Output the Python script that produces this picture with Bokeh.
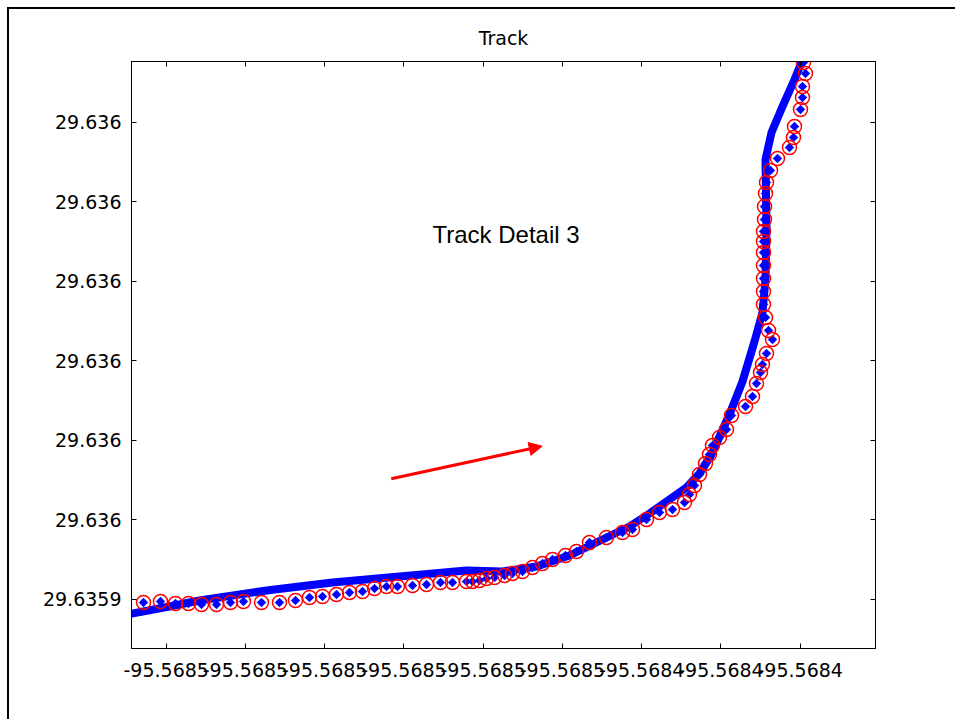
from bokeh.plotting import figure
from bokeh.models import Range1d, LinearAxis, FixedTicker, Arrow, NormalHead, Label
from bokeh.embed import file_html
from bokeh.resources import INLINE

# ---- data (degrees) ----
band_lon = [-95.568505262, -95.568499584, -95.568495798, -95.568487344, -95.568479016,
            -95.568470562, -95.568462108, -95.568457566, -95.568453276, -95.568449112,
            -95.568444948, -95.568441541, -95.568439017, -95.568434349, -95.568432708,
            -95.568431194, -95.568428923, -95.568427283, -95.568425768, -95.568424759,
            -95.568424380, -95.568424254, -95.568424380, -95.568423623, -95.568422235,
            -95.568420721, -95.568419585]
band_lat = [29.635936101, 29.635938239, 29.635939748, 29.635942264, 29.635944277,
            29.635945786, 29.635947296, 29.635947044, 29.635948302, 29.635951069,
            29.635955094, 29.635958365, 29.635961635, 29.635968176, 29.635971698,
            29.635976478, 29.635986540, 29.635994842, 29.636004905, 29.636012201,
            29.636020502, 29.636033081, 29.636050691, 29.636057483, 29.636064024,
            29.636070816, 29.636076351]

fix_lon = [
    -95.568502864, -95.568500719, -95.568498827, -95.568497186, -95.568495546, -95.568493653, -95.568491887, -95.568490246, -95.568487975, -95.568485704,
    -95.568483685, -95.568481918, -95.568480278, -95.568478512, -95.568476871, -95.568475231, -95.568473717, -95.568472203, -95.568470815, -95.568468922,
    -95.568467155, -95.568465389, -95.568463875, -95.568462108, -95.568461351, -95.568460468, -95.568459585, -95.568458575, -95.568457313, -95.568456304,
    -95.568455042, -95.568453780, -95.568452518, -95.568451257, -95.568449616, -95.568448228, -95.568446588, -95.568444443, -95.568442424, -95.568441162,
    -95.568439396, -95.568437755, -95.568436115, -95.568434601, -95.568433970, -95.568433339, -95.568432708, -95.568431951, -95.568431447, -95.568431068,
    -95.568430185, -95.568429302, -95.568428671, -95.568426904, -95.568426021, -95.568425516, -95.568425011, -95.568424759, -95.568424254, -95.568423497,
    -95.568423999, -95.568424380, -95.568424633, -95.568424633, -95.568424633, -95.568424633, -95.568424633, -95.568424633, -95.568424633, -95.568424506,
    -95.568424506, -95.568424380, -95.568424254, -95.568423750, -95.568422866, -95.568421352, -95.568420848, -95.568420721, -95.568419964, -95.568419712,
    -95.568419712, -95.568419333, -95.568419585]
fix_lat = [
    29.635939245, 29.635939497, 29.635938994, 29.635938994, 29.635938742, 29.635938742, 29.635939245, 29.635939497, 29.635939245, 29.635939245,
    29.635939748, 29.635940503, 29.635940755, 29.635941258, 29.635941761, 29.635942013, 29.635942767, 29.635943270, 29.635943270, 29.635943522,
    29.635943774, 29.635944277, 29.635944277, 29.635944528, 29.635944528, 29.635944780, 29.635945283, 29.635945535, 29.635946038, 29.635946541,
    29.635947044, 29.635948050, 29.635949057, 29.635950063, 29.635951069, 29.635952075, 29.635954339, 29.635955597, 29.635956855, 29.635957610,
    29.635960126, 29.635961887, 29.635962641, 29.635964402, 29.635966415, 29.635968679, 29.635971446, 29.635974214, 29.635976478, 29.635978742,
    29.635980754, 29.635982767, 29.635986289, 29.635988553, 29.635991069, 29.635994339, 29.635997106, 29.635999119, 29.636001886, 29.636005408,
    29.636007672, 29.636010943, 29.636014213, 29.636017484, 29.636020754, 29.636024024, 29.636027295, 29.636030062, 29.636032578, 29.636035597,
    29.636038867, 29.636042137, 29.636044905, 29.636047924, 29.636050942, 29.636053710, 29.636056225, 29.636058993, 29.636063269, 29.636066288,
    29.636069055, 29.636072326, 29.636075093]

arrow_lon = [-95.568471609, -95.568452556]
arrow_lat = [29.635970365, 29.635978566]

note_text = "Track Detail 3"
note_lon = -95.568466398
note_lat = 29.636031823

x_limits = [-95.568504378, -95.5684105]
y_limits = [29.635927673, 29.636075345]

x_ticks = [-95.5685, -95.56849, -95.56848, -95.56847, -95.56846,
           -95.56845, -95.56844, -95.56843, -95.56842]
x_tick_labels = ["-95.5685", "-95.5685", "-95.5685", "-95.5685", "-95.5685",
                 "-95.5685", "-95.5684", "-95.5684", "-95.5684"]
y_ticks = [29.63594, 29.63596, 29.63598, 29.636, 29.63602, 29.63604, 29.63606]
y_tick_labels = ["29.6359", "29.636", "29.636", "29.636", "29.636", "29.636", "29.636"]

TICK_FONT = "DejaVu Sans"

p = figure(width=948, height=712,
           x_range=Range1d(x_limits[0], x_limits[1]),
           y_range=Range1d(y_limits[0], y_limits[1]),
           output_backend="svg", toolbar_location=None,
           min_border_left=122, min_border_right=82,
           min_border_top=52, min_border_bottom=73,
           title="Track")
p.styles = {"border-left": "2px solid black", "border-top": "2px solid black",
            "margin-left": "7px", "margin-top": "7px"}
p.background_fill_color = "white"
p.border_fill_color = "white"
p.outline_line_color = "black"
p.outline_line_width = 1
p.xgrid.visible = False
p.ygrid.visible = False

p.title.align = "center"
p.title.text_font = TICK_FONT
p.title.text_font_size = "19px"
p.title.text_font_style = "normal"
p.title.text_color = "black"
p.title.standoff = 26

xax = p.xaxis[0]
yax = p.yaxis[0]
xax.ticker = FixedTicker(ticks=x_ticks)
yax.ticker = FixedTicker(ticks=y_ticks)
xax.major_label_overrides = dict(zip(x_ticks, x_tick_labels))
yax.major_label_overrides = dict(zip(y_ticks, y_tick_labels))
xax.major_label_standoff = 14
yax.major_label_standoff = 10

top_ax = LinearAxis(ticker=FixedTicker(ticks=x_ticks))
right_ax = LinearAxis(ticker=FixedTicker(ticks=y_ticks))
p.add_layout(top_ax, "above")
p.add_layout(right_ax, "right")

for ax in (xax, yax, top_ax, right_ax):
    ax.major_tick_in = 5
    ax.major_tick_out = 0
    ax.minor_tick_line_color = None
    ax.axis_line_color = "black"
    ax.major_tick_line_color = "black"
    ax.major_label_text_font = TICK_FONT
    ax.major_label_text_font_size = "19px"
    ax.major_label_text_color = "black"

for ax in (top_ax, right_ax):
    ax.major_label_text_font_size = "1px"
    ax.major_label_text_color = None
    ax.major_label_standoff = 0

# track band
p.line(band_lon, band_lat, line_width=8, line_color="#0000FF",
       line_join="round", line_cap="round")
# fixes: blue diamonds in red circles
p.scatter(fix_lon, fix_lat, marker="square", angle=0.7854, size=6,
          fill_color="#0000FF", line_color="#0000FF")
p.scatter(fix_lon, fix_lat, marker="circle", size=14,
          fill_color=None, line_color="#FF0000", line_width=1.5)

p.add_layout(Arrow(end=NormalHead(size=13, fill_color="#FF0000", line_color="#FF0000"),
                   x_start=arrow_lon[0], y_start=arrow_lat[0],
                   x_end=arrow_lon[1], y_end=arrow_lat[1],
                   line_color="#FF0000", line_width=3))

p.add_layout(Label(x=note_lon, y=note_lat, text=note_text,
                   text_align="left", text_baseline="middle",
                   text_font="Liberation Sans", text_font_size="24px",
                   text_color="black"))

open("out.html", "w").write(file_html(p, INLINE))
